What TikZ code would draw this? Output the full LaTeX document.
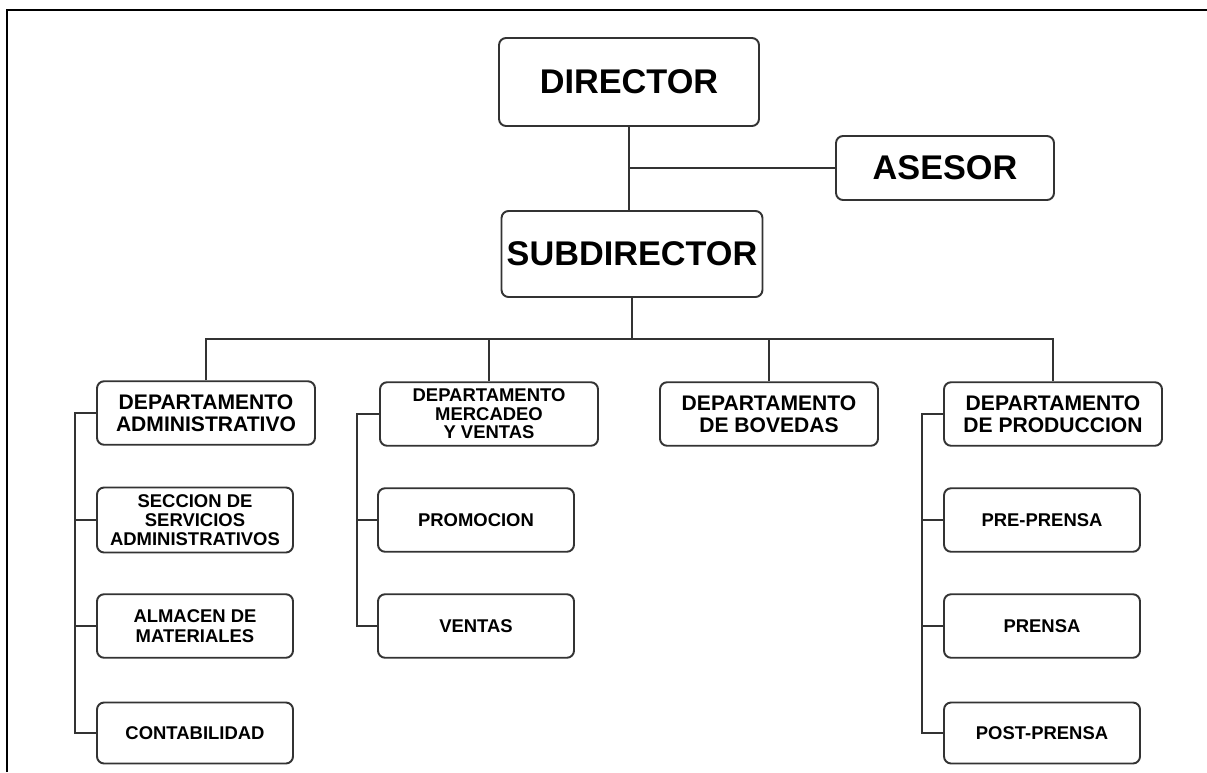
\documentclass[tikz,border=0pt]{standalone}
\usepackage{fontspec}
\setmainfont{Liberation Sans}
\usetikzlibrary{positioning}

\begin{document}
\begin{tikzpicture}[
        x=0.02cm, y=-0.02cm,
        font=\bfseries,
        caja/.style={draw=black!80, line width=1.1pt, rounded corners=4pt, align=center, inner sep=1pt},
        jefe/.style={caja, font=\fontsize{19.5}{22}\selectfont\bfseries},
        depto/.style={caja, minimum width=4.36cm, minimum height=1.27cm, font=\fontsize{12}{12.5}\selectfont\bfseries},
        seccion/.style={caja, minimum width=3.92cm, minimum height=1.27cm, font=\fontsize{10.5}{11}\selectfont\bfseries},
        linea/.style={draw=black!80, line width=1.1pt}
    ]
        % Marco
        \useasboundingbox (0,0) rectangle (1207,772);
        \draw[line width=1.6pt] (7,772) -- (7,10) -- (1207,10);

        % Dirección
        \node[jefe, minimum width=5.2cm, minimum height=1.76cm] (dir) at (629,82) {DIRECTOR};
        \node[jefe, minimum width=4.36cm, minimum height=1.28cm] (ases) at (945,168) {ASESOR};
        \node[jefe, minimum width=5.22cm, minimum height=1.72cm] (sub) at (632,254) {SUBDIRECTOR};

        % Departamentos
        \node[depto] (dadm) at (206,413) {DEPARTAMENTO\\ADMINISTRATIVO};
        \node[depto, font=\fontsize{10.5}{10.5}\selectfont\bfseries] (dmer) at (489,414) {DEPARTAMENTO\\MERCADEO\\Y VENTAS};
        \node[depto] (dbov) at (769,414) {DEPARTAMENTO\\DE BOVEDAS};
        \node[depto] (dpro) at (1053,414) {DEPARTAMENTO\\DE PRODUCCION};

        % Secciones
        \node[seccion, minimum height=1.3cm] (sec) at (195,520) {SECCION DE\\SERVICIOS\\ADMINISTRATIVOS};
        \node[seccion] (alm) at (195,626) {ALMACEN DE\\MATERIALES};
        \node[seccion, minimum height=1.22cm] (cont) at (195,733) {CONTABILIDAD};

        \node[seccion] (prom) at (476,520) {PROMOCION};
        \node[seccion] (vent) at (476,626) {VENTAS};

        \node[seccion] (pre) at (1042,520) {PRE-PRENSA};
        \node[seccion] (pren) at (1042,626) {PRENSA};
        \node[seccion, minimum height=1.22cm] (post) at (1042,733) {POST-PRENSA};

        % Conectores
        \coordinate (bus) at (0,339);
        \coordinate (ejeA) at (75,0);
        \coordinate (ejeM) at (357,0);
        \coordinate (ejeP) at (922,0);

        \draw[linea] (dir.south) -- (dir.south |- sub.north);
        \draw[linea] (ases.west) -- (ases.west -| dir.south);
        \draw[linea] (sub.south) -- (sub.south |- bus);
        \draw[linea] (dadm.north) -- (dadm.north |- bus) -| (dpro.north);
        \draw[linea] (dmer.north) -- (dmer.north |- bus);
        \draw[linea] (dbov.north) -- (dbov.north |- bus);

        \draw[linea] (dadm.west) -- (dadm.west -| ejeA) |- (cont.west);
        \draw[linea] (sec.west) -- (sec.west -| ejeA);
        \draw[linea] (alm.west) -- (alm.west -| ejeA);

        \draw[linea] (dmer.west) -- (dmer.west -| ejeM) |- (vent.west);
        \draw[linea] (prom.west) -- (prom.west -| ejeM);

        \draw[linea] (dpro.west) -- (dpro.west -| ejeP) |- (post.west);
        \draw[linea] (pre.west) -- (pre.west -| ejeP);
        \draw[linea] (pren.west) -- (pren.west -| ejeP);

    \end{tikzpicture}
\end{document}
